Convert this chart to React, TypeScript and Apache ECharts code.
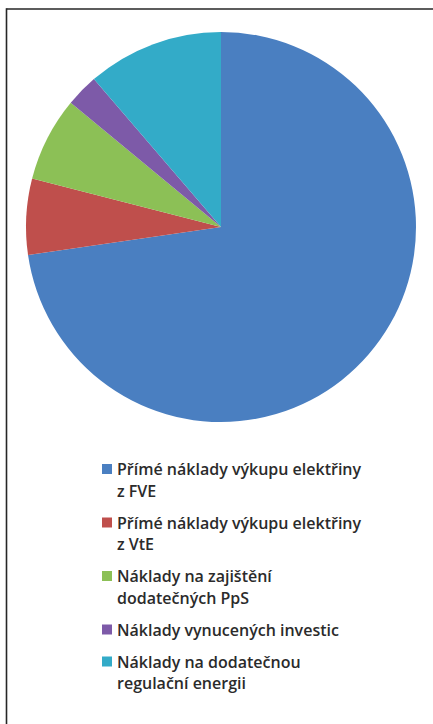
import { useEffect, useRef } from "react";
import * as echarts from "echarts";

// Cost categories (pie slices, clockwise from 12 o'clock)
const categories = [
  "Přímé náklady výkupu elektřiny z FVE",
  "Přímé náklady výkupu elektřiny z VtE",
  "Náklady na zajištění dodatečných PpS",
  "Náklady vynucených investic",
  "Náklady na dodatečnou regulační energii",
];

// Legend wording, broken into its printed lines
const legendLines = [
  ["Přímé náklady výkupu elektřiny", "z FVE"],
  ["Přímé náklady výkupu elektřiny", "z VtE"],
  ["Náklady na zajištění", "dodatečných PpS"],
  ["Náklady vynucených investic"],
  ["Náklady na dodatečnou", "regulační energii"],
];

// Share of total costs, %
const shares = [72.7, 6.3, 7.0, 2.7, 11.3];

const colors = ["#4A7FC1", "#BF4F4C", "#8CC056", "#7D5AA8", "#33ABC8"];

const FONT = "'Open Sans', 'Noto Sans', sans-serif";
const LINE_H = 21.5;
const ENTRY_GAP = 32;
const LEGEND_FIRST_Y = 469;

export default function App() {
  const ref = useRef<HTMLDivElement>(null);

  useEffect(() => {
    if (!ref.current) return;
    const chart = echarts.init(ref.current, undefined, { renderer: "svg" });

    // one legend block per entry so each marker sits on its entry's first line
    const legends: any[] = [];
    let centerY = LEGEND_FIRST_Y;
    categories.forEach((name, i) => {
      const n = legendLines[i].length;
      const blank = new Array(n - 1).fill("");
      const text = [...blank, ...legendLines[i]].join("\n");
      legends.push({
        data: [name],
        orient: "vertical",
        left: 102,
        top: centerY - ((2 * n - 1) * LINE_H) / 2,
        padding: 0,
        itemWidth: 10,
        itemHeight: 10,
        icon: "rect",
        selectedMode: false,
        formatter: () => text,
        textStyle: {
          fontFamily: FONT,
          fontSize: 16,
          fontWeight: 600,
          color: "#2B2B2B",
          lineHeight: LINE_H,
        },
      });
      centerY += (n - 1) * LINE_H + ENTRY_GAP;
    });

    chart.setOption({
      animation: false,
      color: colors,
      legend: legends,
      graphic: [
        {
          type: "line",
          shape: { x1: 6.5, y1: 9, x2: 433, y2: 9 },
          style: { stroke: "#262626", lineWidth: 1.6 },
          silent: true,
        },
        {
          type: "line",
          shape: { x1: 6.5, y1: 8.2, x2: 6.5, y2: 724 },
          style: { stroke: "#262626", lineWidth: 1.6 },
          silent: true,
        },
      ],
      series: [
        {
          type: "pie",
          center: [221, 227],
          radius: 195,
          startAngle: 90,
          clockwise: true,
          label: { show: false },
          labelLine: { show: false },
          emphasis: { disabled: true },
          itemStyle: { borderWidth: 0 },
          data: categories.map((name, i) => ({ name, value: shares[i] })),
        },
      ],
    });

    return () => chart.dispose();
  }, []);

  return (
    <div
      ref={ref}
      style={{
        position: "absolute",
        left: 0,
        top: 0,
        width: 433,
        height: 724,
        background: "#ffffff",
      }}
    />
  );
}
